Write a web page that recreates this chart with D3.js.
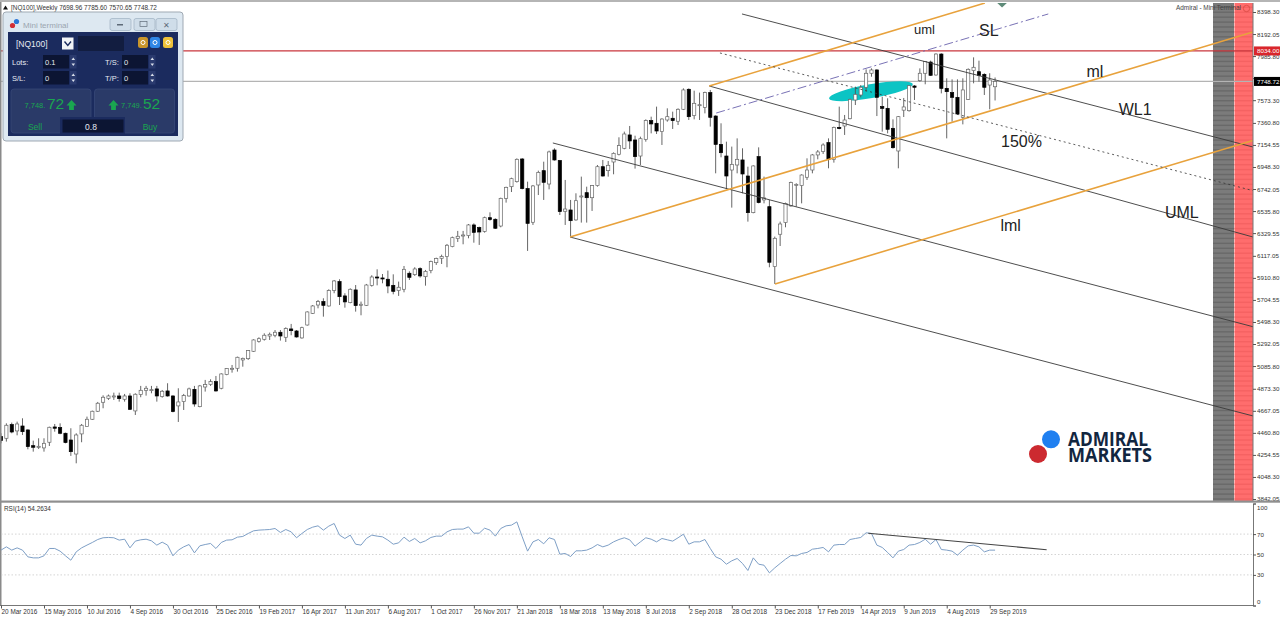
<!DOCTYPE html>
<html>
<head>
<meta charset="utf-8">
<script src="https://cdnjs.cloudflare.com/ajax/libs/d3/7.9.0/d3.min.js"></script>
<style>
  html, body { margin: 0; padding: 0; background: #fff; overflow: hidden; }
  svg { display: block; font-family: "Liberation Sans", Arial, sans-serif; }
</style>
</head>
<body>
<svg id="chart" width="1280" height="619"></svg>
<script>
// Weekly candles, one value per bar, oldest first
const opens = [
  4426,4410,4538,4479,4525,4488,4341,4329,4320,4373,
  4516,4510,4457,4394,4263,4451,4519,4588,4663,4747,
  4784,4797,4806,4775,4806,4666,4819,4859,4859,4872,
  4800,4853,4806,4713,4753,4806,4868,4706,4890,4915,
  4940,4878,5006,5056,5065,5143,5155,5224,5317,5336,
  5367,5374,5402,5355,5433,5414,5349,5470,5579,5657,
  5689,5648,5792,5876,5742,5679,5798,5654,5654,5841,
  5919,5910,5898,5841,5792,5804,5954,5941,5997,5922,
  5979,6053,6094,6110,6203,6281,6306,6306,6406,6381,
  6346,6474,6459,6396,6655,6764,6811,7023,6746,6431,
  6780,6914,6789,7107,7008,6534,6546,6453,6671,6708,
  6661,6774,6951,6914,6995,7067,7123,7248,7201,7051,
  7207,7382,7357,7279,7388,7404,7376,7488,7675,7429,
  7522,7506,7644,7425,7160,7051,6920,6967,7014,6864,
  6521,7045,6640,6577,6016,6319,6428,6584,6777,6774,
  6852,6920,7061,7092,7176,7020,7319,7332,7400,7575,
  7622,7694,7825,7856,7513,7497,7310,7098,7480,7475,
  7706,7756,7825,7930,7809,8005,7684,7644,7600,7413,
  7581,7850,7840,7815,7715,7698.96
]
const highs = [
  4457,4550,4557,4566,4597,4494,4388,4410,4410,4519,
  4544,4550,4463,4504,4457,4544,4613,4669,4750,4812,
  4819,4837,4837,4825,4831,4831,4900,4900,4900,4900,
  4862,4925,4812,4878,4825,4884,4900,4909,4956,4962,
  4993,5018,5065,5096,5174,5165,5236,5336,5355,5392,
  5399,5423,5423,5448,5480,5423,5454,5598,5657,5704,
  5720,5804,5891,5898,5767,5813,5844,5689,5854,5935,
  5991,5947,5979,5944,5876,6022,5972,6010,6010,5985,
  6072,6100,6128,6228,6297,6350,6350,6415,6421,6390,
  6484,6524,6468,6661,6764,6848,7029,7032,6811,6780,
  6914,6998,7101,7123,7014,6827,6640,6702,6858,6764,
  6780,6967,7014,7004,7085,7226,7279,7332,7241,7232,
  7394,7419,7513,7404,7497,7466,7497,7684,7684,7662,
  7644,7653,7669,7432,7357,7185,7139,7216,7123,6951,
  6964,7132,6858,6640,6297,6437,6615,6811,6796,6880,
  7029,7070,7107,7170,7216,7326,7513,7435,7587,7700,
  7715,7862,7871,7862,7606,7591,7394,7425,7594,7715,
  7715,7871,7940,7943,8012,8012,7778,7768,7768,7778,
  7871,7974,7943,7825,7825,7785.6
]
const lows = [
  4363,4379,4457,4438,4441,4307,4285,4310,4285,4338,
  4472,4448,4363,4245,4176,4373,4519,4582,4656,4691,
  4769,4769,4753,4753,4675,4628,4794,4809,4831,4753,
  4790,4800,4653,4563,4675,4800,4706,4700,4847,4900,
  4847,4868,5000,5024,5034,5080,5143,5218,5305,5324,
  5330,5355,5324,5311,5374,5352,5342,5464,5573,5626,
  5548,5642,5767,5657,5632,5673,5595,5561,5648,5829,
  5841,5860,5767,5757,5742,5776,5891,5929,5913,5838,
  5954,6032,6041,6010,6197,6247,6225,6281,6240,6219,
  6334,6446,6368,6384,6615,6714,6802,6739,6163,6406,
  6686,6640,6739,7008,6499,6406,6297,6446,6428,6428,
  6537,6764,6858,6858,6880,7057,7114,7117,6933,6967,
  7185,7263,7257,7154,7372,7304,7341,7481,7388,7394,
  7388,7450,7326,6889,7039,6743,6568,6889,6702,6437,
  6515,6608,6608,6010,5854,6209,6384,6577,6577,6608,
  6827,6889,7020,7070,6936,6989,7301,7248,7394,7528,
  7600,7653,7793,7425,7279,7263,7120,6936,7416,7466,
  7575,7746,7722,7800,7803,7637,7216,7372,7435,7347,
  7575,7731,7746,7622,7488,7570.65
]
const closes = [
  4388,4532,4469,4544,4472,4332,4326,4335,4363,4513,
  4504,4457,4370,4285,4441,4532,4588,4663,4738,4794,
  4806,4806,4781,4806,4681,4822,4859,4878,4865,4806,
  4850,4806,4660,4750,4809,4872,4731,4900,4912,4940,
  4853,5012,5062,5065,5168,5158,5230,5330,5342,5374,
  5383,5402,5367,5436,5417,5358,5445,5592,5648,5689,
  5654,5792,5882,5735,5686,5804,5651,5664,5844,5919,
  5910,5901,5835,5785,5823,5991,5916,5994,5929,5972,
  6063,6091,6110,6216,6287,6300,6312,6406,6337,6340,
  6474,6456,6375,6655,6758,6839,7020,6746,6421,6771,
  6898,6805,7089,7014,6531,6555,6446,6633,6677,6661,
  6774,6951,6864,6964,7076,7148,7257,7192,7045,7213,
  7382,7351,7285,7397,7419,7382,7488,7669,7419,7544,
  7531,7644,7413,7160,7082,6864,6973,7020,6883,6521,
  6958,6615,6660,6057,6281,6415,6608,6802,6786,6873,
  6920,7061,7089,7154,7020,7319,7307,7388,7581,7628,
  7694,7825,7856,7600,7497,7301,7129,7419,7510,7709,
  7694,7825,7934,7806,8005,7684,7653,7600,7444,7669,
  7862,7881,7803,7694,7762,7748.72
]
const rsiValues = [
  54.3,57.5,54.3,56.5,54.3,47.7,46.7,46.7,48.7,55.9,
  55.9,53.3,48.7,44.4,52.6,56.5,59.2,61.8,64.7,66.4,
  66.7,66.4,64.1,65.0,56.5,63.1,64.4,65.0,63.4,59.2,
  62.1,59.2,48.7,54.3,57.5,59.8,51.6,58.5,59.8,60.8,
  55.9,61.8,64.1,64.4,67.0,67.7,70.6,73.2,73.9,74.2,
  74.5,75.5,71.6,74.5,72.2,66.4,70.6,74.5,76.8,78.1,
  73.9,77.8,80.4,69.0,65.7,69.0,60.1,59.2,65.7,69.0,
  68.0,67.3,64.1,60.1,61.4,67.0,62.8,65.7,61.4,63.4,
  66.7,68.0,68.0,72.2,74.5,74.9,74.9,77.1,70.9,70.9,
  75.8,73.9,68.0,75.5,78.1,78.8,82.0,67.3,53.3,62.4,
  64.7,60.5,66.4,64.7,50.3,51.0,48.0,53.6,53.6,54.3,
  56.5,59.8,57.5,59.2,62.4,64.7,66.4,64.4,58.2,62.4,
  66.4,65.0,62.4,65.7,64.4,63.1,66.4,69.9,60.1,62.4,
  62.4,64.7,55.9,47.7,45.4,40.5,43.8,46.1,41.2,34.3,
  46.7,40.5,39.5,32.0,36.9,41.2,45.4,49.0,48.7,51.0,
  52.0,55.2,55.9,56.9,52.6,59.2,59.8,59.8,64.7,65.7,
  66.7,71.3,70.6,59.2,56.9,52.0,46.7,53.3,54.9,59.2,
  59.8,61.8,65.0,60.1,64.7,54.9,54.3,53.3,49.3,54.3,
  58.5,59.2,57.5,52.6,54.3,54.26
]

// Axis labels
const priceTicks = [8398.30,8192.05,7985.80,7779.55,7573.30,7360.80,7154.55,6948.30,6742.05,6535.80,6329.55,6117.05,5910.80,5704.55,5498.30,5292.05,5085.80,4873.30,4667.05,4460.80,4254.55,4048.30,3842.05]
const rsiTicks = [100, 70, 50, 30, 0]
const rsiLevels = [70, 50, 30]
const dateLabels = ["20 Mar 2016","15 May 2016","10 Jul 2016","4 Sep 2016","30 Oct 2016","25 Dec 2016","19 Feb 2017","16 Apr 2017","11 Jun 2017","6 Aug 2017","1 Oct 2017","26 Nov 2017","21 Jan 2018","18 Mar 2018","13 May 2018","8 Jul 2018","2 Sep 2018","28 Oct 2018","23 Dec 2018","17 Feb 2019","14 Apr 2019","9 Jun 2019","4 Aug 2019","29 Sep 2019"]
const barsPerLabel = 8

// Drawn objects as [bar, price] anchor pairs
const resistance = 8034.00
const lastPrice = 7748.72
const orangeLines = [
  [[131.8, 7706], [183.1, 8482]],
  [[105.9, 6293], [233, 8211]],
  [[144.05, 5854], [233, 7196]]
]
const darkLines = [
  [[137.9, 8380], [233, 7135]],
  [[131.8, 7706], [233, 6293]],
  [[102.7, 7173], [233, 5454]],
  [[105.9, 6293], [233, 4619]]
]
const dottedLine = [[133.8, 8015], [233, 6727]]
const slLine = [[133.1, 7453], [194.9, 8380]]
const rsiTrend = [[161.4, 70.8], [194.6, 54.7]]
const ellipseEnds = [[154.1, 7590], [169.7, 7725]]
const annotations = [
  { text: "uml", bar: 169.9, price: 8190, size: 13 },
  { text: "SL", bar: 182, price: 8170, size: 16 },
  { text: "ml", bar: 202, price: 7790, size: 16 },
  { text: "WL1", bar: 208, price: 7435, size: 16 },
  { text: "150%", bar: 186.1, price: 7135, size: 16 },
  { text: "lml", bar: 186, price: 6354, size: 16 },
  { text: "UML", bar: 216.6, price: 6474, size: 16 }
]

const svg = d3.select("#chart")
const width = 1280
const axisX = 1253
const mainBottom = 501
const rsiTop = 503.5
const rsiBottom = 605.5
const axisFont = "6.2px"

// Scales
const x = d3.scaleLinear().domain([0, 233]).range([1, axisX])
const y = d3.scaleLinear().domain([3842.05, 8398.30]).range([499, 12])
const yRsi = d3.scaleLinear().domain([0, 100]).range([rsiBottom, rsiTop])

const defs = svg.append("defs")
defs.append("clipPath").attr("id", "main-clip")
  .append("rect").attr("x", 1).attr("y", 3).attr("width", axisX - 1).attr("height", mainBottom - 3)

const plot = svg.append("g").attr("clip-path", "url(#main-clip)")

// Volume profile style bands on the right
const bands = [
  { x0: 1213, x1: 1234, fill: "#7b7b7b", stripe: "#696969" },
  { x0: 1234.5, x1: 1253, fill: "#ff6d6d", stripe: "#f56262" }
]
const stripeRows = d3.range(3842, 8500, 46)
bands.forEach(b => {
  plot.append("rect").attr("x", b.x0).attr("y", 3)
    .attr("width", b.x1 - b.x0).attr("height", mainBottom - 3).attr("fill", b.fill)
  plot.selectAll(null).data(stripeRows).enter().append("line")
    .attr("x1", b.x0).attr("x2", b.x1)
    .attr("y1", d => y(d)).attr("y2", d => y(d))
    .attr("stroke", b.stripe).attr("stroke-width", 1.4)
})

// Horizontal levels
plot.append("line").attr("x1", 0).attr("x2", axisX)
  .attr("y1", y(lastPrice)).attr("y2", y(lastPrice))
  .attr("stroke", "#b4b4b4").attr("stroke-width", 1.3)

// Teal ellipse goes under the candles
const [ea, eb] = ellipseEnds
const ecx = (x(ea[0]) + x(eb[0])) / 2
const ecy = (y(ea[1]) + y(eb[1])) / 2
const edx = x(eb[0]) - x(ea[0])
const edy = y(eb[1]) - y(ea[1])
plot.append("ellipse")
  .attr("cx", ecx).attr("cy", ecy)
  .attr("rx", Math.hypot(edx, edy) / 2).attr("ry", 7)
  .attr("transform", `rotate(${Math.atan2(edy, edx) * 180 / Math.PI} ${ecx} ${ecy})`)
  .attr("fill", "#0cc4c4")

// Candles
const candles = d3.range(opens.length)
plot.selectAll(".wick").data(candles).enter().append("line")
  .attr("class", "wick")
  .attr("x1", d => x(d)).attr("x2", d => x(d))
  .attr("y1", d => y(highs[d])).attr("y2", d => y(lows[d]))
  .attr("stroke", "#555").attr("stroke-width", 0.9)
plot.selectAll(".body").data(candles).enter().append("rect")
  .attr("class", "body")
  .attr("x", d => x(d) - 1.6)
  .attr("width", 3.2)
  .attr("y", d => y(Math.max(opens[d], closes[d])))
  .attr("height", d => Math.max(1, Math.abs(y(opens[d]) - y(closes[d]))))
  .attr("fill", d => closes[d] >= opens[d] ? "#fff" : "#000")
  .attr("stroke", d => closes[d] >= opens[d] ? "#666" : "#000")
  .attr("stroke-width", 0.7)

// Red level sits over the candles
plot.append("line").attr("x1", 0).attr("x2", axisX)
  .attr("y1", y(resistance)).attr("y2", y(resistance))
  .attr("stroke", "#c9363c").attr("stroke-width", 1.3)

const priceLine = d3.line().x(d => x(d[0])).y(d => y(d[1]))

// Pitchfork lines
plot.selectAll(".dark").data(darkLines).enter().append("path")
  .attr("class", "dark").attr("d", priceLine)
  .attr("fill", "none").attr("stroke", "#3a3a3a").attr("stroke-width", 0.9)
plot.selectAll(".orange").data(orangeLines).enter().append("path")
  .attr("class", "orange").attr("d", priceLine)
  .attr("fill", "none").attr("stroke", "#e8a23c").attr("stroke-width", 1.6)
plot.append("path").attr("d", priceLine(dottedLine))
  .attr("fill", "none").attr("stroke", "#333").attr("stroke-width", 0.8).attr("stroke-dasharray", "2,3")
plot.append("path").attr("d", priceLine(slLine))
  .attr("fill", "none").attr("stroke", "#6a62ad").attr("stroke-width", 0.9).attr("stroke-dasharray", "9,3,2,3")

// Little marker cut off at the top edge
plot.append("path")
  .attr("d", `M${x(185.4)},3L${x(187.2)},3L${x(186.3)},${y(8440)}Z`)
  .attr("fill", "#5e8a78")

// Annotations
svg.selectAll(".note").data(annotations).enter().append("text")
  .attr("class", "note")
  .attr("x", d => x(d.bar)).attr("y", d => y(d.price))
  .attr("font-size", d => d.size + "px")
  .attr("fill", "#222")
  .text(d => d.text)

// Price axis
const priceAxis = d3.axisRight(y)
  .tickValues(priceTicks)
  .tickFormat(d3.format(".2f"))
  .tickSize(3)
const priceG = svg.append("g")
  .attr("transform", `translate(${axisX},0)`)
  .call(priceAxis)
priceG.select(".domain").attr("stroke", "#777").attr("d", `M0,3V${mainBottom}`)
priceG.selectAll(".tick line").attr("stroke", "#555")
priceG.selectAll(".tick text")
  .attr("x", 4).attr("fill", "#333").attr("font-size", axisFont)
  .attr("font-family", "'Liberation Sans', Arial, sans-serif")

// Price tags
const tags = [
  { value: resistance, fill: "#d9262c" },
  { value: lastPrice, fill: "#000" }
]
tags.forEach(t => {
  svg.append("rect").attr("x", axisX + 1).attr("y", y(t.value) - 4.5)
    .attr("width", 26).attr("height", 9).attr("fill", t.fill)
  svg.append("text").attr("x", axisX + 4).attr("y", y(t.value) + 2.3)
    .attr("font-size", axisFont).attr("fill", "#fff").text(d3.format(".2f")(t.value))
})

// Frame lines
svg.append("rect").attr("x", 0).attr("y", 0).attr("width", 1.5).attr("height", 606).attr("fill", "#8a8a8a")
svg.append("rect").attr("x", 0).attr("y", 0).attr("width", width).attr("height", 2).attr("fill", "#b5b5b5")
svg.append("rect").attr("x", 0).attr("y", 500.5).attr("width", width).attr("height", 2.2).attr("fill", "#8f8f8f")

// RSI pane
svg.selectAll(".level").data(rsiLevels).enter().append("line")
  .attr("class", "level")
  .attr("x1", 1).attr("x2", axisX)
  .attr("y1", d => yRsi(d)).attr("y2", d => yRsi(d))
  .attr("stroke", "#c9c9c9").attr("stroke-width", 0.8).attr("stroke-dasharray", "1.5,2")

const rsiPath = d3.line().x((d, i) => x(i)).y(d => yRsi(d))
svg.append("path").attr("d", rsiPath(rsiValues))
  .attr("fill", "none").attr("stroke", "#7e9fc6").attr("stroke-width", 1)

svg.append("path")
  .attr("d", d3.line().x(d => x(d[0])).y(d => yRsi(d[1]))(rsiTrend))
  .attr("fill", "none").attr("stroke", "#444").attr("stroke-width", 1.1)

const rsiAxis = d3.axisRight(yRsi)
  .tickValues(rsiTicks)
  .tickFormat(d3.format("d"))
  .tickSize(3)
const rsiG = svg.append("g")
  .attr("transform", `translate(${axisX},0)`)
  .call(rsiAxis)
rsiG.select(".domain").attr("stroke", "#777")
rsiG.selectAll(".tick line").attr("stroke", "#555")
// 100 and 0 labels are pushed inside the pane
rsiG.selectAll(".tick text")
  .attr("x", 4).attr("fill", "#333").attr("font-size", axisFont)
  .attr("font-family", "'Liberation Sans', Arial, sans-serif")
  .attr("dy", d => d === 100 ? "0.9em" : d === 0 ? "-0.3em" : "0.32em")

// Time axis
const timeAxis = d3.axisBottom(x)
  .tickValues(dateLabels.map((d, i) => i * barsPerLabel))
  .tickFormat(d => dateLabels[d / barsPerLabel])
  .tickSize(3)
const timeG = svg.append("g")
  .attr("transform", `translate(0,${rsiBottom})`)
  .call(timeAxis)
timeG.select(".domain").attr("stroke", "#777").attr("d", `M0,0H${axisX}`)
timeG.selectAll(".tick line").attr("stroke", "#555")
timeG.selectAll(".tick text")
  .attr("text-anchor", "start").attr("x", 0).attr("y", 4)
  .attr("fill", "#333").attr("font-size", "6.4px")
  .attr("font-family", "'Liberation Sans', Arial, sans-serif")

// Pane captions
svg.append("text").attr("x", 11).attr("y", 10).attr("font-size", "6.4px").attr("fill", "#333")
  .text("[NQ100],Weekly  7698.96 7785.60 7570.65 7748.72")
svg.append("path").attr("d", "M3,9.5L8,9.5L5.5,5.5Z").attr("fill", "#111")
svg.append("text").attr("x", 4).attr("y", 511).attr("font-size", "6.4px").attr("fill", "#333")
  .text("RSI(14) 54.2634")
svg.append("text").attr("x", 1176).attr("y", 10).attr("font-size", "6.4px").attr("fill", "#444")
  .text("Admiral - Mini Terminal")
svg.append("circle").attr("cx", 1246.5).attr("cy", 8.5).attr("r", 3.2)
  .attr("fill", "none").attr("stroke", "#d84a42").attr("stroke-width", 0.8)

// Logo
const logo = svg.append("g")
logo.append("circle").attr("cx", 1051).attr("cy", 439.3).attr("r", 9).attr("fill", "#1f7ff0")
logo.append("circle").attr("cx", 1038).attr("cy", 454).attr("r", 9).attr("fill", "#cc2a30")
logo.selectAll(null)
  .data([{ t: "ADMIRAL", y: 445.5, w: 80 }, { t: "MARKETS", y: 462, w: 84 }])
  .enter().append("text")
  .attr("x", 1068).attr("y", d => d.y)
  .attr("textLength", d => d.w).attr("lengthAdjust", "spacingAndGlyphs")
  .attr("font-family", "'Open Sans', sans-serif")
  .attr("font-weight", 700).attr("font-size", "19px")
  .attr("fill", "#12263f")
  .text(d => d.t)

// Mini terminal widget
const term = svg.append("g")
term.append("rect").attr("x", 3).attr("y", 12).attr("width", 180).attr("height", 129).attr("rx", 3)
  .attr("fill", "#dde8f1").attr("stroke", "#9fa9b3").attr("stroke-width", 1)
term.append("circle").attr("cx", 16.5).attr("cy", 21.5).attr("r", 2.6).attr("fill", "#2c78d8")
term.append("circle").attr("cx", 12.5).attr("cy", 25.5).attr("r", 2.6).attr("fill", "#d32f35")
term.append("text").attr("x", 23).attr("y", 27.5).attr("font-size", "8px").attr("fill", "#9aa5b0").text("Mini terminal")

const winButtons = [110, 134, 156]
term.selectAll(null).data(winButtons).enter().append("rect")
  .attr("x", d => d).attr("y", 18.5).attr("width", 21).attr("height", 12).attr("rx", 2)
  .attr("fill", "#cfdde9").attr("stroke", "#9db0c1").attr("stroke-width", 0.7)
term.append("rect").attr("x", 117).attr("y", 24).attr("width", 6).attr("height", 1.5).attr("fill", "#5e6b78")
term.append("rect").attr("x", 140).attr("y", 21.5).attr("width", 7).attr("height", 5).attr("fill", "none").attr("stroke", "#5e6b78").attr("stroke-width", 0.7)
term.append("text").attr("x", 166.5).attr("y", 27.5).attr("text-anchor", "middle").attr("font-size", "8px").attr("fill", "#5e6b78").text("✕")

term.append("rect").attr("x", 8).attr("y", 32).attr("width", 170).attr("height", 104).attr("fill", "#1b2b5e")
term.append("text").attr("x", 16).attr("y", 47).attr("font-size", "8.5px").attr("fill", "#e6eaf2").text("[NQ100]")
term.append("rect").attr("x", 62).attr("y", 37.5).attr("width", 11.5).attr("height", 12).attr("fill", "#f2f4f6")
term.append("path").attr("d", "M64.5,41.5L67.8,45.5L71,41.5").attr("fill", "none").attr("stroke", "#1b2b5e").attr("stroke-width", 1.4)
term.append("rect").attr("x", 78).attr("y", 36).attr("width", 46).attr("height", 15).attr("fill", "#121d40")

const termIcons = [
  { x: 143, fill: "#c9952b" },
  { x: 155, fill: "#2f86e6" },
  { x: 168, fill: "#efc23a" }
]
term.selectAll(null).data(termIcons).enter().append("rect")
  .attr("x", d => d.x - 5).attr("y", 37).attr("width", 10).attr("height", 11).attr("rx", 2.5)
  .attr("fill", d => d.fill)
term.selectAll(null).data(termIcons).enter().append("circle")
  .attr("cx", d => d.x).attr("cy", 42.5).attr("r", 2)
  .attr("fill", "none").attr("stroke", "#fff").attr("stroke-width", 1)

const termFields = [
  { label: "Lots:", value: "0.1", lx: 12, ix: 43, y: 55 },
  { label: "T/S:", value: "0", lx: 105, ix: 122, y: 55 },
  { label: "S/L:", value: "0", lx: 12, ix: 43, y: 71 },
  { label: "T/P:", value: "0", lx: 105, ix: 122, y: 71 }
]
termFields.forEach(f => {
  term.append("text").attr("x", f.lx).attr("y", f.y + 9.5).attr("font-size", "7.5px").attr("fill", "#e6eaf2").text(f.label)
  term.append("rect").attr("x", f.ix).attr("y", f.y).attr("width", 26).attr("height", 13.5).attr("fill", "#0c1533")
  term.append("text").attr("x", f.ix + 2).attr("y", f.y + 9.5).attr("font-size", "7.5px").attr("fill", "#e6eaf2").text(f.value)
  term.append("rect").attr("x", f.ix + 27).attr("y", f.y).attr("width", 6.5).attr("height", 13.5).attr("fill", "#2a3a6e")
  term.append("path").attr("d", `M${f.ix + 28.5},${f.y + 5}l1.8,-2.5l1.8,2.5ZM${f.ix + 28.5},${f.y + 8.5}l1.8,2.5l1.8,-2.5Z`).attr("fill", "#d8deea")
})

const quotes = [
  { x: 11, small: "7,748.", big: "72", sx: 24.5, bx: 47, ax: 71.5 },
  { x: 94.5, small: "7,749.", big: "52", sx: 121, bx: 143, ax: 113.5 }
]
quotes.forEach(q => {
  term.append("rect").attr("x", q.x).attr("y", 89).attr("width", 80).attr("height", 44).attr("rx", 3)
    .attr("fill", "#2a3a68").attr("stroke", "#3a4a7a").attr("stroke-width", 0.7)
  term.append("text").attr("x", q.sx).attr("y", 108).attr("font-size", "7.5px").attr("fill", "#1aa650").text(q.small)
  term.append("text").attr("x", q.bx).attr("y", 109).attr("font-size", "15.5px").attr("fill", "#1aa650").text(q.big)
  term.append("path").attr("d", `M${q.ax - 5},105.5L${q.ax},100L${q.ax + 5},105.5L${q.ax + 2.4},105.5L${q.ax + 2.4},110L${q.ax - 2.4},110L${q.ax - 2.4},105.5Z`).attr("fill", "#1aa650")
})
term.append("rect").attr("x", 60).attr("y", 117).attr("width", 65).attr("height", 17).attr("fill", "#1b2b5e")
term.append("rect").attr("x", 62.5).attr("y", 119.5).attr("width", 61).attr("height", 13).attr("fill", "#0c1533")
term.append("text").attr("x", 91).attr("y", 129.5).attr("text-anchor", "middle").attr("font-size", "8.5px").attr("fill", "#e6eaf2").text("0.8")
term.append("text").attr("x", 35).attr("y", 129.5).attr("text-anchor", "middle").attr("font-size", "8.5px").attr("fill", "#1aa650").text("Sell")
term.append("text").attr("x", 150).attr("y", 129.5).attr("text-anchor", "middle").attr("font-size", "8.5px").attr("fill", "#1aa650").text("Buy")
</script>
</body>
</html>
